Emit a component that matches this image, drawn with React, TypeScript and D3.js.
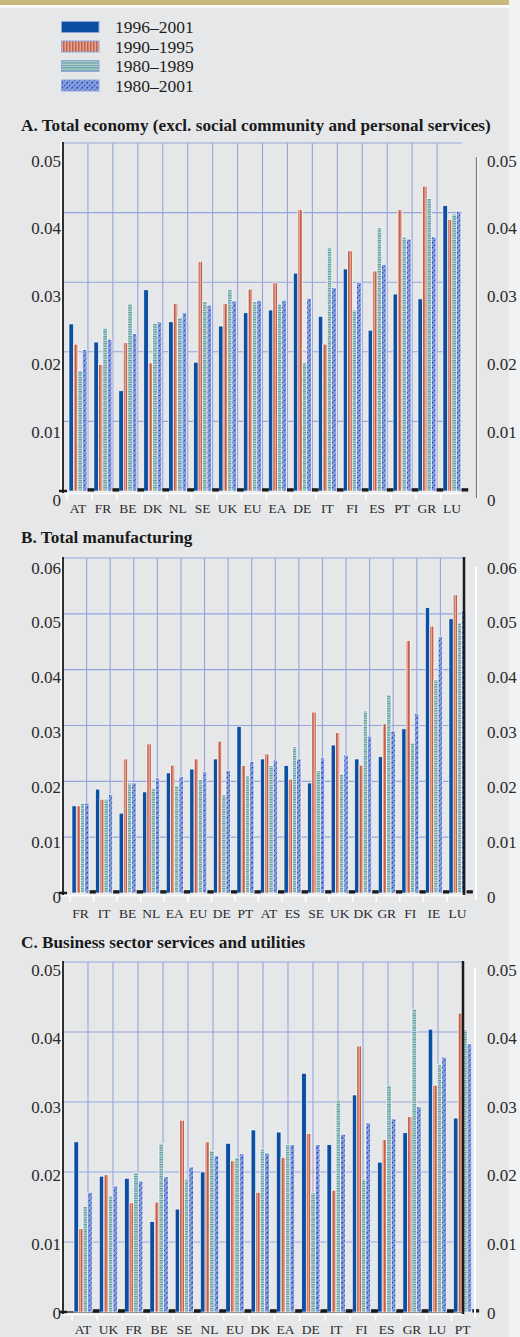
import React from "react";
import * as d3 from "d3";

const W = 520;
const H = 1337;
const FONT = "'Liberation Serif', 'Times New Roman', serif";

// ---------- data ----------
const seriesNames = ["1996–2001", "1990–1995", "1980–1989", "1980–2001"];

const catsA = ["AT", "FR", "BE", "DK", "NL", "SE", "UK", "EU", "EA", "DE", "IT", "FI", "ES", "PT", "GR", "LU"];
const a9601 = [0.0240, 0.0214, 0.0144, 0.0289, 0.0243, 0.0185, 0.0237, 0.0256, 0.0260, 0.0313, 0.0251, 0.0319, 0.0231, 0.0283, 0.0276, 0.0410];
const a9095 = [0.0211, 0.0182, 0.0213, 0.0184, 0.0269, 0.0330, 0.0269, 0.0290, 0.0299, 0.0404, 0.0211, 0.0345, 0.0316, 0.0404, 0.0438, 0.0390];
const a8089 = [0.0173, 0.0234, 0.0269, 0.0241, 0.0249, 0.0272, 0.0290, 0.0272, 0.0269, 0.0185, 0.0350, 0.0260, 0.0378, 0.0365, 0.0420, 0.0398];
const a8001 = [0.0203, 0.0218, 0.0226, 0.0243, 0.0256, 0.0267, 0.0273, 0.0274, 0.0274, 0.0277, 0.0292, 0.0300, 0.0325, 0.0362, 0.0365, 0.0402];
const aStub = [0.0004, 0.0004, 0.0004, 0.0004, 0.0004, 0.0004, 0.0004, 0.0004, 0.0004, 0.0004, 0.0004, 0.0004, 0.0004, 0.0004, 0.0004, 0.0004];
const ticksA = [0, 0.01, 0.02, 0.03, 0.04, 0.05];
const tickLabelsA = ["0", "0.01", "0.02", "0.03", "0.04", "0.05"];

const catsB = ["FR", "IT", "BE", "NL", "EA", "EU", "DE", "PT", "AT", "ES", "SE", "UK", "DK", "GR", "FI", "IE", "LU"];
const b9601 = [0.0156, 0.0186, 0.0143, 0.0181, 0.0215, 0.0222, 0.0240, 0.0298, 0.0240, 0.0228, 0.0197, 0.0265, 0.0240, 0.0244, 0.0294, 0.0511, 0.0491];
const b9095 = [0.0156, 0.0168, 0.0240, 0.0267, 0.0229, 0.0240, 0.0272, 0.0228, 0.0249, 0.0204, 0.0324, 0.0287, 0.0229, 0.0303, 0.0452, 0.0478, 0.0534];
const b8089 = [0.0161, 0.0168, 0.0197, 0.0188, 0.0192, 0.0203, 0.0176, 0.0210, 0.0228, 0.0262, 0.0219, 0.0213, 0.0326, 0.0355, 0.0269, 0.0382, 0.0484];
const b8001 = [0.0161, 0.0176, 0.0197, 0.0206, 0.0208, 0.0217, 0.0219, 0.0235, 0.0238, 0.0240, 0.0242, 0.0247, 0.0281, 0.0290, 0.0322, 0.0459, 0.0505];
const bStub = [0.0005, 0.0005, 0.0005, 0.0005, 0.0005, 0.0005, 0.0005, 0.0005, 0.0005, 0.0005, 0.0005, 0.0005, 0.0005, 0.0005, 0.0005, 0.0005, 0.0005];
const ticksB = [0, 0.01, 0.02, 0.03, 0.04, 0.05, 0.06];
const tickLabelsB = ["0", "0.01", "0.02", "0.03", "0.04", "0.05", "0.06"];

const catsC = ["AT", "UK", "FR", "BE", "SE", "NL", "EU", "DK", "EA", "DE", "IT", "FI", "ES", "GR", "LU", "PT"];
const c9601 = [0.0243, 0.0194, 0.0191, 0.0129, 0.0147, 0.0200, 0.0241, 0.0260, 0.0257, 0.0341, 0.0239, 0.0310, 0.0214, 0.0256, 0.0404, 0.0277];
const c9095 = [0.0119, 0.0196, 0.0156, 0.0157, 0.0274, 0.0243, 0.0216, 0.0171, 0.0221, 0.0255, 0.0174, 0.0380, 0.0246, 0.0279, 0.0324, 0.0427];
const c8089 = [0.0151, 0.0166, 0.0199, 0.0241, 0.0190, 0.0231, 0.0221, 0.0233, 0.0239, 0.0170, 0.0303, 0.0190, 0.0324, 0.0433, 0.0354, 0.0403];
const c8001 = [0.0171, 0.0180, 0.0187, 0.0193, 0.0207, 0.0223, 0.0226, 0.0227, 0.0239, 0.0239, 0.0254, 0.0270, 0.0276, 0.0293, 0.0364, 0.0383];
const cStub = [0.0004, 0.0004, 0.0004, 0.0004, 0.0004, 0.0004, 0.0004, 0.0004, 0.0004, 0.0004, 0.0004, 0.0004, 0.0004, 0.0004, 0.0004, 0.0004];
const ticksC = [0, 0.01, 0.02, 0.03, 0.04, 0.05];
const tickLabelsC = ["0", "0.01", "0.02", "0.03", "0.04", "0.05"];

// ---------- styles ----------
const FILLS = ["#0b4fa3", "url(#pRed)", "url(#pTeal)", "url(#pHatch)"];
const GRID = "#93a5dc";
const BG = "#e6e7e9";

type PanelCfg = {
  title: string;
  titleY: number;
  cats: string[];
  series: number[][];
  stub: number[];
  ticks: number[];
  tickLabels: string[];
  yMax: number;
  top: number;
  base: number;
  plotLeft: number;
  plotRight: number;
  gridCount: number;
  groupStart: number;
  step: number;
  labelTop: number;
  labelBottom: number;
  catY: number;
  rightBlack: boolean;
  rightAxis: { x: number; y1: number; y2: number; color: string };
  darkBase: boolean;
};

const panels: PanelCfg[] = [
  {
    title: "A. Total economy (excl. social community and personal services)",
    titleY: 125,
    cats: catsA,
    series: [a9601, a9095, a8089, a8001],
    stub: aStub,
    ticks: ticksA,
    tickLabels: tickLabelsA,
    yMax: 0.05,
    top: 143,
    base: 491,
    plotLeft: 63,
    plotRight: 462,
    gridCount: 16,
    groupStart: 69,
    step: 24.93,
    labelTop: 161,
    labelBottom: 500,
    catY: 508,
    rightBlack: false,
    rightAxis: { x: 476.5, y1: 157, y2: 498, color: "#7d7d7d" },
    darkBase: false,
  },
  {
    title: "B. Total manufacturing",
    titleY: 537,
    cats: catsB,
    series: [b9601, b9095, b8089, b8001],
    stub: bStub,
    ticks: ticksB,
    tickLabels: tickLabelsB,
    yMax: 0.06,
    top: 558,
    base: 893,
    plotLeft: 63,
    plotRight: 464,
    gridCount: 17,
    groupStart: 72,
    step: 23.56,
    labelTop: 568,
    labelBottom: 897,
    catY: 913,
    rightBlack: true,
    rightAxis: { x: 476, y1: 567, y2: 900, color: "#ffffff" },
    darkBase: false,
  },
  {
    title: "C. Business sector services and utilities",
    titleY: 942,
    cats: catsC,
    series: [c9601, c9095, c8089, c8001],
    stub: cStub,
    ticks: ticksC,
    tickLabels: tickLabelsC,
    yMax: 0.05,
    top: 962,
    base: 1312,
    plotLeft: 63,
    plotRight: 463,
    gridCount: 16,
    groupStart: 74,
    step: 25.3,
    labelTop: 970,
    labelBottom: 1313,
    catY: 1329,
    rightBlack: true,
    rightAxis: { x: 475, y1: 968, y2: 1318, color: "#ffffff" },
    darkBase: true,
  },
];

function Panel({ cfg }: { cfg: PanelCfg }) {
  const y = d3.scaleLinear().domain([0, cfg.yMax]).range([cfg.base, cfg.top]);
  const yl = d3.scaleLinear().domain([0, cfg.yMax]).range([cfg.labelBottom, cfg.labelTop]);
  const x = d3
    .scaleBand<string>()
    .domain(cfg.cats)
    .range([cfg.groupStart, cfg.groupStart + cfg.cats.length * cfg.step])
    .paddingInner(0)
    .paddingOuter(0);
  const gx = d3.scaleLinear().domain([0, cfg.gridCount]).range([cfg.plotLeft, cfg.plotRight]);
  const step = x.step();
  const w = step * 0.18;
  const stubW = step * 0.27;

  return (
    <g>
      <text x={21} y={cfg.titleY} fontFamily={FONT} fontWeight="bold" fontSize={17.2} dominantBaseline="central" fill="#1a1a1a">
        {cfg.title}
      </text>
      {/* horizontal grid */}
      {cfg.ticks
        .filter((t) => t > 0)
        .map((t) => (
          <line key={"h" + t} x1={cfg.plotLeft} x2={cfg.plotRight} y1={y(t)} y2={y(t)} stroke={GRID} strokeWidth={1.1} />
        ))}
      {/* vertical grid */}
      {d3.range(1, cfg.gridCount).map((i) => (
        <line key={"v" + i} x1={gx(i)} x2={gx(i)} y1={cfg.top} y2={cfg.base} stroke={GRID} strokeWidth={1.1} />
      ))}
      {/* dark baseline */}
      {cfg.darkBase && (
        <line x1={cfg.plotLeft} x2={cfg.plotRight} y1={cfg.base} y2={cfg.base} stroke="#333" strokeWidth={1.3} />
      )}
      {/* white x axis line */}
      <line x1={cfg.plotLeft} x2={cfg.plotRight} y1={cfg.base + 2.5} y2={cfg.base + 2.5} stroke="#fff" strokeWidth={1.6} />
      {cfg.cats.map((c) => (
        <line key={"xt" + c} x1={(x(c) as number) - 2} x2={(x(c) as number) - 2} y1={cfg.base + 2.5} y2={cfg.base + 9} stroke="#fff" strokeWidth={1.6} />
      ))}
      {/* bars */}
      {cfg.series.map((vals, si) =>
        cfg.cats.map((c, ci) => {
          const x0 = (x(c) as number) + si * w;
          const yv = y(vals[ci]);
          return (
            <rect
              key={"b" + si + "-" + c}
              x={x0}
              y={yv}
              width={w}
              height={cfg.base - yv}
              fill={FILLS[si]}
              stroke="#ffffff"
              strokeWidth={0.6}
            />
          );
        })
      )}
      {/* black stubs */}
      {cfg.cats.map((c, ci) => {
        const x0 = (x(c) as number) + 4 * w + 0.6;
        const yv = y(cfg.stub[ci]);
        return <rect key={"s" + c} x={x0} y={yv} width={stubW} height={cfg.base - yv + 0.5} fill="#1b1b1b" />;
      })}
      {/* left axis */}
      <line x1={cfg.plotLeft - 2} x2={cfg.plotLeft - 2} y1={cfg.top - 1} y2={cfg.base + 4} stroke="#fff" strokeWidth={1.5} />
      <line x1={cfg.plotLeft} x2={cfg.plotLeft} y1={cfg.top - 1} y2={cfg.base + 2} stroke="#1b1b1b" strokeWidth={1.8} />
      <line x1={cfg.plotLeft - 4} x2={cfg.plotLeft + 4} y1={cfg.base} y2={cfg.base} stroke="#1b1b1b" strokeWidth={2.5} />
      {/* right black frame */}
      {cfg.rightBlack && (
        <line x1={cfg.plotRight} x2={cfg.plotRight} y1={cfg.top - 1} y2={cfg.base + 2} stroke="#1b1b1b" strokeWidth={2.5} />
      )}
      {/* right axis line */}
      <line
        x1={cfg.rightAxis.x}
        x2={cfg.rightAxis.x}
        y1={cfg.rightAxis.y1}
        y2={cfg.rightAxis.y2}
        stroke={cfg.rightAxis.color}
        strokeWidth={cfg.rightAxis.color === "#ffffff" ? 2 : 1.2}
      />
      {cfg.rightAxis.color !== "#ffffff" && (
        <line x1={cfg.rightAxis.x + 1.5} x2={cfg.rightAxis.x + 1.5} y1={cfg.rightAxis.y1} y2={cfg.rightAxis.y2} stroke="#fff" strokeWidth={1} />
      )}
      {/* y labels */}
      {cfg.ticks.map((t, i) => (
        <g key={"yl" + t}>
          <text x={cfg.plotLeft - 2} y={yl(t)} textAnchor="end" dominantBaseline="central" fontFamily={FONT} fontSize={17} fill="#2a2a2a">
            {cfg.tickLabels[i]}
          </text>
          <text x={487} y={yl(t)} textAnchor="start" dominantBaseline="central" fontFamily={FONT} fontSize={17} fill="#2a2a2a">
            {cfg.tickLabels[i]}
          </text>
        </g>
      ))}
      {/* category labels */}
      {cfg.cats.map((c) => (
        <text
          key={"cl" + c}
          x={(x(c) as number) + 2 * w}
          y={cfg.catY}
          textAnchor="middle"
          dominantBaseline="central"
          fontFamily={FONT}
          fontSize={13.5}
          fill="#2a2a2a"
        >
          {c}
        </text>
      ))}
    </g>
  );
}

function Legend() {
  const ly = d3.scaleLinear().domain([0, 3]).range([27, 85.5]);
  return (
    <g>
      {seriesNames.map((n, i) => (
        <g key={n}>
          <rect x={61.5} y={ly(i) - 5.5} width={37.5} height={11} fill={FILLS[i]} stroke="#8fa6da" strokeWidth={1} />
          <text x={115} y={ly(i)} dominantBaseline="central" fontFamily={FONT} fontSize={17.5} fill="#1e1e1e">
            {n}
          </text>
        </g>
      ))}
    </g>
  );
}

export default function App() {
  return (
    <div style={{ width: W, height: H }}>
      <style>{`html,body{margin:0;padding:0;}`}</style>
      <svg width={W} height={H} viewBox={`0 0 ${W} ${H}`} style={{ display: "block" }}>
        <defs>
          <pattern id="pRed" patternUnits="userSpaceOnUse" width="3" height="3">
            <rect width="3" height="3" fill="#e2a592" />
            <rect width="1.5" height="3" fill="#c0604d" />
          </pattern>
          <pattern id="pTeal" patternUnits="userSpaceOnUse" width="3" height="2.4">
            <rect width="3" height="2.4" fill="#bcd6d6" />
            <rect width="3" height="1.2" fill="#5f9c9e" />
          </pattern>
          <pattern id="pHatch" patternUnits="userSpaceOnUse" width="5" height="5">
            <rect width="5" height="5" fill="#8a9edc" />
            <path d="M-1,6 L6,-1" stroke="#1a4cbf" strokeWidth={1.3} strokeDasharray="2.2 1.3" />
          </pattern>
        </defs>
        <rect x={0} y={0} width={W} height={H} fill="#f1f2f3" />
        <rect x={0} y={0} width={509} height={H} fill={BG} />
        <rect x={0} y={0} width={509} height={5} fill="#c8b97c" />
        <rect x={0} y={5} width={509} height={2.5} fill="#ffffff" />
        <Legend />
        {panels.map((p) => (
          <Panel key={p.title} cfg={p} />
        ))}
      </svg>
    </div>
  );
}
